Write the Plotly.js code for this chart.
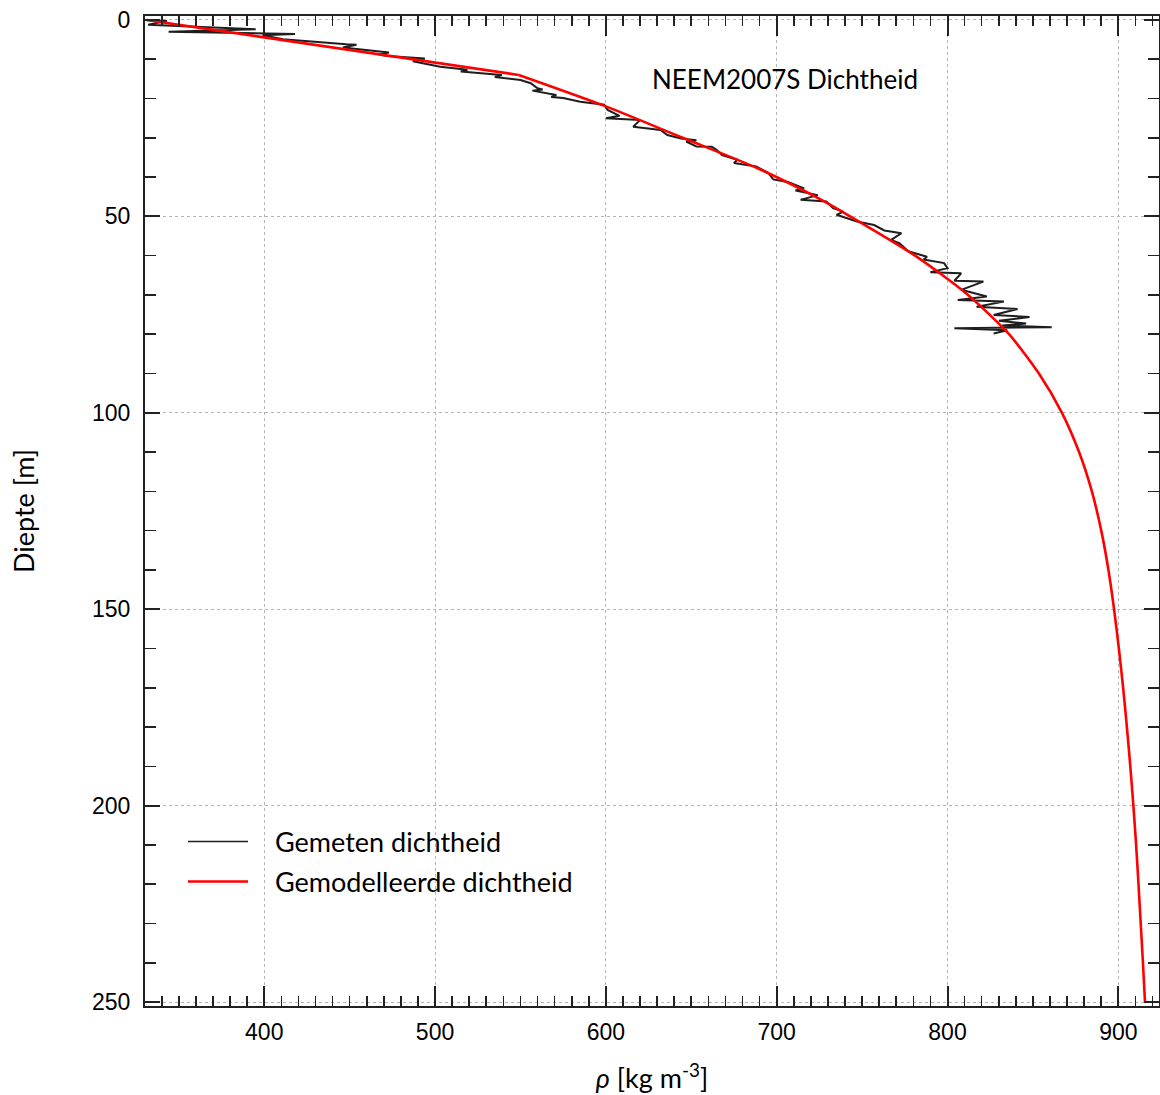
<!DOCTYPE html>
<html>
<head>
<meta charset="utf-8">
<script src="https://cdn.plot.ly/plotly-3.0.1.min.js"></script>
<style>
  html, body { margin: 0; padding: 0; background: #ffffff; }
  #chart { width: 1160px; height: 1095px; }
</style>
</head>
<body>
<div id="chart"></div>
<script>
// NEEM2007S firn core: measured density profile (kg m-3) against depth (m)
const measuredDensity = [
  330, 343, 332, 395, 344, 418, 399, 411, 448, 454,
  446, 473, 467, 472, 494, 487, 503, 519, 515, 539,
  535, 550, 556, 560, 563, 557, 571, 568, 575, 585,
  599, 601, 608, 600, 620, 616, 632, 636, 644, 653,
  647, 653, 662, 665, 668, 677, 675, 688, 695, 698,
  707, 716, 711, 724, 714, 729, 733, 739, 735, 747,
  757, 763, 773, 767, 772, 777, 788, 786, 798, 800,
  790, 808, 804, 821, 808, 823, 806, 833, 817, 841,
  827, 848, 830, 846, 832, 861, 804, 835, 827
];
const measuredDepth = [
  0.0, 0.3, 1.2, 2.4, 3.0, 3.6, 3.9, 4.9, 6.2, 6.3,
  7.0, 8.3, 8.8, 9.2, 9.8, 10.5, 11.9, 12.7, 13.1, 14.0,
  14.5, 15.3, 16.1, 17.4, 17.7, 18.0, 19.1, 19.6, 19.9, 20.8,
  21.6, 22.9, 24.4, 25.0, 25.5, 27.2, 28.0, 29.3, 30.2, 30.6,
  31.0, 32.2, 32.3, 33.1, 34.4, 35.6, 36.4, 37.3, 38.9, 40.6,
  41.3, 42.9, 43.4, 44.6, 45.8, 46.2, 47.9, 48.8, 49.6, 51.3,
  52.2, 53.6, 54.3, 56.0, 56.9, 58.9, 60.3, 61.0, 61.9, 63.2,
  64.2, 64.5, 66.4, 66.6, 68.7, 70.4, 71.3, 71.7, 73.0, 73.6,
  75.1, 75.6, 76.6, 77.3, 77.8, 78.2, 78.5, 79.0, 79.8
];

// Modelled density: near-surface stage (linear) and deeper stage (curved)
const modelDensityUpper = [331, 549];
const modelDepthUpper = [0, 14];
const modelDensityLower = [
  549, 600, 645, 690, 727, 743, 781, 812, 836, 853.5,
  867, 877, 884.5, 890, 894.2, 897.5, 900.3, 902.8, 905, 907,
  908.8, 910.4, 911.8, 913.1, 914.4, 915.6
];
const modelDepthLower = [
  14, 22, 30, 38, 46, 50, 60, 70, 80, 90,
  100, 110, 120, 130, 140, 150, 160, 170, 180, 190,
  200, 210, 220, 230, 240, 250
];

const seriesNames = ['Gemeten dichtheid', 'Gemodelleerde dichtheid'];
const seriesColors = ['#1e1e1e', '#ff0000'];
const chartTitle = 'NEEM2007S Dichtheid';
const xTitle = '<i>ρ</i> [kg m<sup>-3</sup>]';
const yTitle = 'Diepte [m]';

const xRange = [330.2, 923.8];
const yRange = [251, -1];

const tickFont = { family: 'Liberation Sans, Arial, sans-serif', size: 23, color: '#000' };
const textFont = { family: 'Lato, "Open Sans", sans-serif', size: 27, color: '#000' };
const titleFont = { family: 'Lato, "Open Sans", sans-serif', size: 26, color: '#000' };
const axisColor = '#222222';

const measuredLine = { color: seriesColors[0], width: 2 };
const modelLine = { color: seriesColors[1], width: 2.6 };

const traces = [
  {
    x: measuredDensity, y: measuredDepth, type: 'scatter', mode: 'lines',
    name: seriesNames[0], showlegend: false, line: measuredLine
  },
  {
    x: modelDensityUpper, y: modelDepthUpper, type: 'scatter', mode: 'lines',
    name: seriesNames[1], showlegend: false, line: modelLine
  },
  {
    x: modelDensityLower, y: modelDepthLower, type: 'scatter', mode: 'lines',
    name: seriesNames[1], showlegend: false,
    line: Object.assign({}, modelLine, { shape: 'spline', smoothing: 0.7 })
  }
];

const frameAxis = {
  showline: true, linecolor: axisColor, linewidth: 2,
  mirror: 'allticks', ticks: 'inside',
  tickcolor: axisColor, tickwidth: 2,
  showgrid: true, gridcolor: '#b4b4b4', gridwidth: 1, griddash: 'dot',
  zeroline: false, tickfont: tickFont
};

// Legend drawn as a pair of line samples with labels
const legendX0 = 0.0424, legendX1 = 0.1016, legendTextX = 0.1262;
const legendY = [0.1662, 0.1258];

const layout = {
  width: 1160, height: 1095,
  margin: { l: 145, r: 1, t: 16, b: 89, pad: 0 },
  paper_bgcolor: '#ffffff', plot_bgcolor: '#ffffff',
  showlegend: false,
  xaxis: Object.assign({}, frameAxis, {
    range: xRange, tick0: 0, dtick: 100, ticklen: 20,
    ticklabelstandoff: 4,
    minor: { dtick: 10, tick0: 0, ticks: 'inside', ticklen: 10, tickwidth: 1.6, tickcolor: axisColor, showgrid: false },
    title: { text: xTitle, font: textFont, standoff: 26 }
  }),
  xaxis2: {
    overlaying: 'x', anchor: 'y', side: 'bottom', matches: 'x',
    range: xRange, tick0: 50, dtick: 100, ticks: 'inside', ticklen: 15,
    tickcolor: axisColor, tickwidth: 1.8, mirror: 'allticks',
    showline: false, showgrid: false, zeroline: false, showticklabels: false
  },
  yaxis: Object.assign({}, frameAxis, {
    range: yRange, tick0: 0, dtick: 50, ticklen: 15,
    ticklabelstandoff: 8,
    minor: { dtick: 10, tick0: 0, ticks: 'inside', ticklen: 11, tickwidth: 1.6, tickcolor: axisColor, showgrid: false },
    title: { text: yTitle, font: textFont, standoff: 50 }
  }),
  shapes: [
    { type: 'rect', xref: 'paper', yref: 'paper', x0: 0.3945, x1: 0.8531, y0: 0.9439, y1: 0.9823,
      fillcolor: '#ffffff', line: { width: 0 }, layer: 'between' },
    { type: 'rect', xref: 'paper', yref: 'paper', x0: 0.4882, x1: 0.7742, y0: 0.9157, y1: 0.956,
      fillcolor: '#ffffff', line: { width: 0 }, layer: 'between' },
    { type: 'line', xref: 'paper', yref: 'paper', x0: legendX0, x1: legendX1, y0: legendY[0], y1: legendY[0],
      line: { color: seriesColors[0], width: 1.6 } },
    { type: 'line', xref: 'paper', yref: 'paper', x0: legendX0, x1: legendX1, y0: legendY[1], y1: legendY[1],
      line: { color: seriesColors[1], width: 2.6 } }
  ],
  annotations: [
    { text: chartTitle, xref: 'paper', yref: 'paper', x: 0.6307, y: 0.9359,
      xanchor: 'center', yanchor: 'middle', showarrow: false, font: titleFont },
    { text: seriesNames[0], xref: 'paper', yref: 'paper', x: legendTextX, y: legendY[0],
      xanchor: 'left', yanchor: 'middle', showarrow: false, font: textFont },
    { text: seriesNames[1], xref: 'paper', yref: 'paper', x: legendTextX, y: legendY[1],
      xanchor: 'left', yanchor: 'middle', showarrow: false, font: textFont }
  ]
};

Plotly.newPlot('chart', traces, layout, { displayModeBar: false, staticPlot: true });
</script>
</body>
</html>
